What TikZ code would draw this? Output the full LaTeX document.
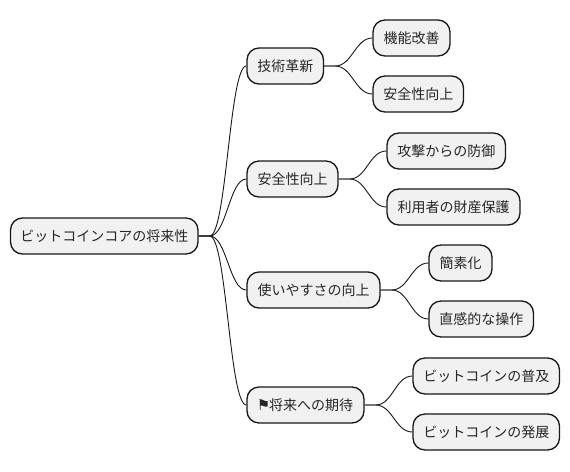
\documentclass[tikz,border=0pt]{standalone}
\usepackage{fontspec}
\setmainfont{Noto Sans CJK JP}
\newfontfamily\symfont{DejaVu Sans}
\definecolor{boxfill}{HTML}{F1F1F1}
\definecolor{edgecol}{HTML}{181818}
\tikzset{
  mm/.style={draw=edgecol,fill=boxfill,line width=1.3pt,rounded corners=12pt,minimum height=36pt,inner sep=0pt,font=\fontsize{14pt}{16pt}\selectfont,text=black!85},
  link/.style={draw=edgecol,line width=0.9pt}
}
\newcommand{\mmbox}[5]{\node[mm,minimum width=#4 pt-#3 pt] (#1) at ({(#3+#4)/2},#2) {#5};}
\newcommand{\mmlink}[2]{\draw[link] (#1.east) -- ++(11,0) .. controls +(17,0) and +(-17,0) .. (#2.west);}
\begin{document}
\begin{tikzpicture}[x=1pt,y=-1pt]
\useasboundingbox (0,0) rectangle (570,471);
\fill[white] (0,0) rectangle (570,471);
\mmbox{root}{236}{10.5}{198}{ビットコインコアの将来性}
\mmbox{a}{66}{247}{323.5}{技術革新}
\mmbox{b}{179}{247}{338}{安全性向上}
\mmbox{c}{290}{247}{380}{使いやすさの向上}
\mmbox{d}{405}{247}{364}{\hbox to 11pt{\hss\symfont\fontsize{15pt}{16pt}\selectfont ⚑\hss}将来への期待}
\mmbox{a1}{38}{373}{450}{機能改善}
\mmbox{a2}{94}{373}{463.5}{安全性向上}
\mmbox{b1}{151}{387}{505.5}{攻撃からの防御}
\mmbox{b2}{207}{387}{520}{利用者の財産保護}
\mmbox{c1}{263}{429}{492}{簡素化}
\mmbox{c2}{319}{429}{533.5}{直感的な操作}
\mmbox{d1}{376}{413}{559.5}{ビットコインの普及}
\mmbox{d2}{432}{413}{559.5}{ビットコインの発展}
\mmlink{root}{a}\mmlink{root}{b}\mmlink{root}{c}\mmlink{root}{d}
\mmlink{a}{a1}\mmlink{a}{a2}\mmlink{b}{b1}\mmlink{b}{b2}
\mmlink{c}{c1}\mmlink{c}{c2}\mmlink{d}{d1}\mmlink{d}{d2}
\end{tikzpicture}
\end{document}
